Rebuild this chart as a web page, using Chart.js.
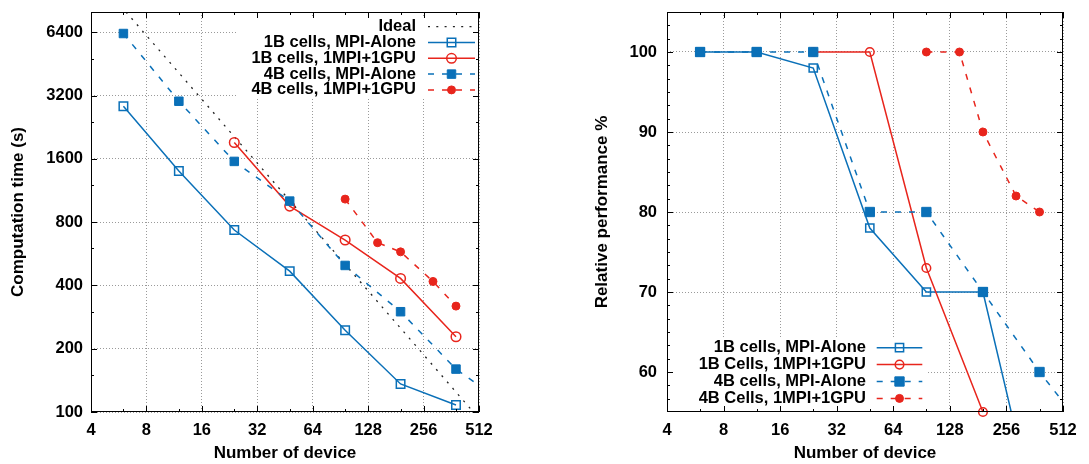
<!DOCTYPE html>
<html>
<head>
<meta charset="utf-8">
<title>Scaling results</title>
<script src="https://cdn.jsdelivr.net/npm/chart.js@4/dist/chart.umd.min.js"></script>
<style>
  body { margin: 0; background: #fff; width: 1089px; height: 464px; position: relative; overflow: hidden; }
  canvas { position: absolute; top: 0; }
  #chart-time { left: 0; }
  #chart-perf { left: 545px; }
</style>
</head>
<body>
<canvas id="chart-time" width="540" height="464"></canvas>
<canvas id="chart-perf" width="544" height="464"></canvas>
<script>
// axis ticks
const deviceTicks = [4, 8, 16, 32, 64, 128, 256, 512];
const timeTicks = [100, 200, 400, 800, 1600, 3200, 6400];
const perfTicks = [60, 70, 80, 90, 100];

// device counts per run set
const devicesMpi1b = [6, 12, 24, 48, 96, 192, 384];
const devicesGpu1b = [24, 48, 96, 192, 384];
const devicesMpi4b = [6, 12, 24, 48, 96, 192, 384, 768];
const devicesGpu4b = [96, 144, 192, 288, 384];
const devicesPerfGpu1b = [24, 48, 96, 192];

// computation time (s)
const timeMpi1b = [2850, 1400, 734, 468, 245, 136, 108];
const timeGpu1b = [1916, 954, 658, 432, 228];
const timeMpi4b = [6320, 3010, 1557, 1008, 498, 300, 160, 104];
const timeGpu4b = [1030, 639, 578, 418, 319];
const idealDevices = [6.2, 477];
const idealTime = [8000, 100];

// relative performance %
const perfMpi1b = [100, 100, 98, 78, 70, 70, 40];
const perfGpu1b = [100, 100, 73, 55];
const perfMpi4b = [100, 100, 100, 80, 80, 70, 60, 51];
const perfGpu4b = [100, 100, 90, 82, 80];

const BLUE = '#0a70b8';
const RED = '#e8251c';
const CLEAR = 'rgba(0,0,0,0)';
const FONT = '"Liberation Sans", Arial, Helvetica, sans-serif';

Chart.defaults.font.family = FONT;
Chart.defaults.font.weight = 'bold';
Chart.defaults.font.size = 16.5;
Chart.defaults.color = '#000';

const pairs = (xs, ys) => xs.map((x, i) => ({ x, y: ys[i] }));

// series look, shared by both panels
function series(label, data, look) {
  return Object.assign({
    label,
    data,
    borderWidth: 1.5,
    tension: 0,
    fill: false,
    pointBorderWidth: 1.5,
    pointHoverRadius: 0
  }, look);
}

const lookMpi1b = (r) => ({ borderColor: BLUE, pointStyle: 'rect', pointRadius: r, pointBorderColor: BLUE, pointBackgroundColor: CLEAR, order: 3 });
const lookGpu1b = (r) => ({ borderColor: RED, pointStyle: 'circle', pointRadius: r, pointBorderColor: RED, pointBackgroundColor: CLEAR, order: 2 });
const lookMpi4b = (r) => ({ borderColor: BLUE, borderDash: [6, 8], pointStyle: 'rect', pointRadius: r, pointBorderColor: BLUE, pointBackgroundColor: BLUE, pointBorderWidth: 1, order: 1 });
const lookGpu4b = (r) => ({ borderColor: RED, borderDash: [6, 8], pointStyle: 'circle', pointRadius: r, pointBorderColor: RED, pointBackgroundColor: RED, pointBorderWidth: 1, order: 0 });

/**
 * Frame around the plot area with inward major/minor ticks on all four sides
 */
const frameTicks = {
  id: 'frameTicks',
  afterDatasetsDraw(chart) {
    const { ctx, chartArea: a, scales } = chart;
    ctx.save();
    ctx.strokeStyle = '#000';
    ctx.lineWidth = 1;

    const minorOf = (scale) => {
      const vals = scale.ticks.map(t => t.value);
      if (scale.type === 'logarithmic') {
        return vals.map(v => v * 1.5).filter(v => v < scale.max);
      }
      const step = vals[1] - vals[0];
      const out = [];
      for (let k = -12; k <= 6 * vals.length + 12; k++) {
        if (k % 6 === 0) continue;
        const v = vals[0] + k * step / 6;
        if (v > scale.min && v < scale.max) out.push(v);
      }
      return out;
    };

    ctx.beginPath();
    const x = scales.x;
    const y = scales.y;
    const mark = (vals, len, horizontal) => {
      vals.forEach(v => {
        if (horizontal) {
          const p = Math.round(x.getPixelForValue(v)) + 0.5;
          ctx.moveTo(p, a.bottom); ctx.lineTo(p, a.bottom - len);
          ctx.moveTo(p, a.top); ctx.lineTo(p, a.top + len);
        } else {
          const p = Math.round(y.getPixelForValue(v)) + 0.5;
          ctx.moveTo(a.left, p); ctx.lineTo(a.left + len, p);
          ctx.moveTo(a.right, p); ctx.lineTo(a.right - len, p);
        }
      });
    };
    mark(x.ticks.map(t => t.value), 6, true);
    mark(minorOf(x), 3, true);
    mark(y.ticks.map(t => t.value), 6, false);
    mark(minorOf(y), 3, false);
    ctx.stroke();

    ctx.strokeRect(a.left + 0.5, a.top + 0.5, a.right - a.left - 1, a.bottom - a.top - 1);
    ctx.restore();
  }
};

/**
 * Key drawn inside the plot: right-aligned label, then a line sample with its marker
 */
const keyBox = {
  id: 'keyBox',
  afterDatasetsDraw(chart, args, opts) {
    const { ctx, chartArea: a } = chart;
    const ox = a.left;
    const oy = a.top;
    ctx.save();
    ctx.fillStyle = '#fff';
    ctx.fillRect(ox + opts.box[0], oy + opts.box[1], opts.box[2], opts.box[3]);

    ctx.font = 'bold 16.5px ' + FONT;
    ctx.textAlign = 'right';
    ctx.textBaseline = 'middle';

    chart.data.datasets.forEach((ds, i) => {
      const ry = oy + opts.firstRow + i * opts.rowGap;
      ctx.fillStyle = '#000';
      ctx.fillText(ds.label, ox + opts.textRight, ry);

      const x0 = ox + opts.sample[0];
      const x1 = ox + opts.sample[1];
      ctx.save();
      ctx.strokeStyle = ds.borderColor;
      ctx.lineWidth = ds.borderWidth;
      ctx.setLineDash(ds.borderDash || []);
      ctx.beginPath();
      ctx.moveTo(x0, ry);
      ctx.lineTo(x1, ry);
      ctx.stroke();
      ctx.restore();

      if (ds.pointRadius > 0) {
        ctx.save();
        ctx.fillStyle = ds.pointBackgroundColor;
        ctx.strokeStyle = ds.pointBorderColor;
        ctx.lineWidth = ds.pointBorderWidth;
        Chart.helpers.drawPoint(ctx, {
          pointStyle: ds.pointStyle,
          radius: ds.pointRadius,
          rotation: 0,
          borderWidth: ds.pointBorderWidth
        }, (x0 + x1) / 2, ry);
        ctx.restore();
      }
    });
    ctx.restore();
  }
};

function axis(type, min, max, ticks, title, titlePadding, labelPadding, size) {
  return {
    type,
    min,
    max,
    afterBuildTicks: (scale) => { scale.ticks = ticks.map(value => ({ value })); },
    afterFit: (scale) => {
      if (scale.isHorizontal()) scale.height = size;
      else scale.width = size;
      // plot area is set by layout padding only
      scale.paddingTop = 0;
      scale.paddingBottom = 0;
      scale.paddingLeft = 0;
      scale.paddingRight = 0;
    },
    grid: { color: '#9a9a9a', lineWidth: 1, drawTicks: false },
    border: { display: false, dash: [1, 2] },
    ticks: {
      autoSkip: false,
      maxRotation: 0,
      padding: labelPadding,
      color: '#000',
      font: { size: 16.5, weight: 'bold' },
      callback: (v) => String(v)
    },
    title: {
      display: true,
      text: title,
      color: '#000',
      font: { size: 17, weight: 'bold' },
      padding: titlePadding
    }
  };
}

const common = {
  responsive: false,
  animation: false,
  events: [],
  plugins: { legend: { display: false }, tooltip: { enabled: false } }
};

new Chart(document.getElementById('chart-time'), {
  type: 'line',
  data: {
    datasets: [
      series('Ideal', pairs(idealDevices, idealTime), {
        borderColor: '#222', borderWidth: 1.3, borderDash: [2, 6.3], pointRadius: 0, order: 4
      }),
      series('1B cells, MPI-Alone', pairs(devicesMpi1b, timeMpi1b), lookMpi1b(6)),
      series('1B cells, 1MPI+1GPU', pairs(devicesGpu1b, timeGpu1b), lookGpu1b(4.8)),
      series('4B cells, MPI-Alone', pairs(devicesMpi4b, timeMpi4b), lookMpi4b(6)),
      series('4B cells, 1MPI+1GPU', pairs(devicesGpu4b, timeGpu4b), lookGpu4b(4))
    ]
  },
  options: Object.assign({}, common, {
    layout: { padding: { top: 12, right: 61, left: 0, bottom: 0 } },
    scales: {
      x: axis('logarithmic', 4, 512, deviceTicks, 'Number of device', { top: 0, bottom: 0 }, 9, 52),
      y: axis('logarithmic', 100, 8000, timeTicks, 'Computation time (s)', { top: 8, bottom: 0 }, 8, 91)
    },
    plugins: Object.assign({}, common.plugins, {
      keyBox: { box: [147, 5, 241, 82], textRight: 325, sample: [337, 384], firstRow: 14.7, rowGap: 15.8 }
    })
  }),
  // key first so the frame ticks stay on top of it
  plugins: [keyBox, frameTicks]
});

new Chart(document.getElementById('chart-perf'), {
  type: 'line',
  data: {
    datasets: [
      series('1B cells, MPI-Alone', pairs(devicesMpi1b, perfMpi1b), lookMpi1b(5.8)),
      series('1B Cells, 1MPI+1GPU', pairs(devicesPerfGpu1b, perfGpu1b), Object.assign(lookGpu1b(4.3), { clip: false })),
      series('4B cells, MPI-Alone', pairs(devicesMpi4b, perfMpi4b), lookMpi4b(6.6)),
      series('4B Cells, 1MPI+1GPU', pairs(devicesGpu4b, perfGpu4b), lookGpu4b(4))
    ]
  },
  options: Object.assign({}, common, {
    layout: { padding: { top: 12, right: 26, left: 0, bottom: 0 } },
    scales: {
      x: axis('logarithmic', 4, 512, deviceTicks, 'Number of device', { top: 0, bottom: 0 }, 9, 52),
      y: axis('linear', 55, 105, perfTicks, 'Relative performance %', { top: 47, bottom: 0 }, 10, 122)
    },
    plugins: Object.assign({}, common.plugins, {
      keyBox: { box: [0, 326, 261, 73], textRight: 199, sample: [209.7, 255.3], firstRow: 335.7, rowGap: 16.9 }
    })
  }),
  plugins: [keyBox, frameTicks]
});
</script>
</body>
</html>
